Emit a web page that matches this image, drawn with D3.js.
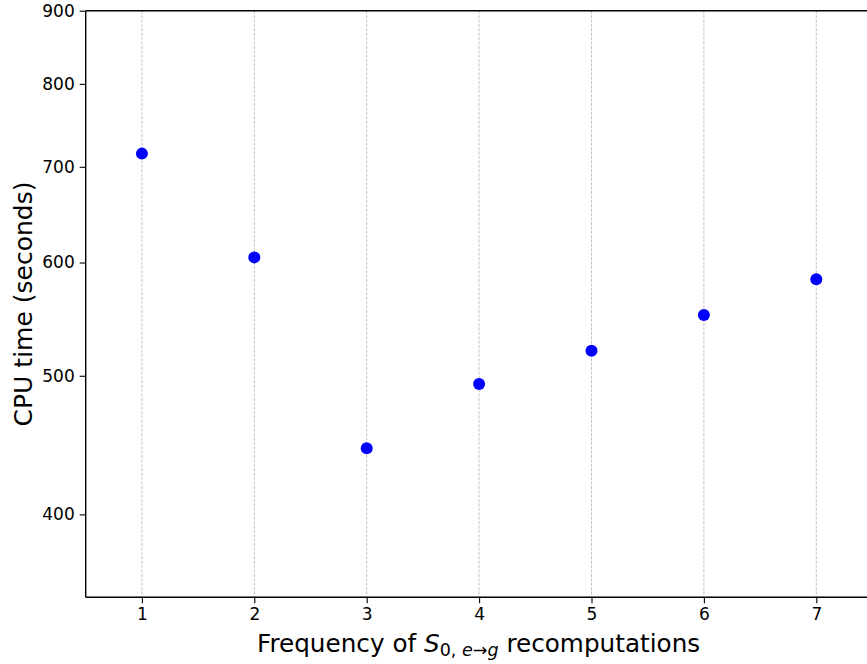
<!DOCTYPE html>
<html>
<head>
<meta charset="utf-8">
<script src="https://cdn.jsdelivr.net/npm/d3@7"></script>
<style>
  html, body { margin: 0; padding: 0; background: #fff; }
  svg { display: block; font-family: "DejaVu Sans", sans-serif; }
</style>
</head>
<body>
<svg id="chart" width="867" height="664"></svg>
<script>
// Data
const frequencies = [1, 2, 3, 4, 5, 6, 7];
const cpuTimes = [715, 605, 445, 493.5, 520.5, 551.5, 584];
const yTickValues = [400, 500, 600, 700, 800, 900];
const xTickValues = [1, 2, 3, 4, 5, 6, 7];

const svg = d3.select("#chart");
const margin = { left: 85.7, top: 10.7, bottom: 597.3 };
const xStep = 112.4;

const x = d3.scaleLinear().domain([0.5, 7.5]).range([margin.left, margin.left + 7 * xStep]);
const y = d3.scaleLog().domain([350, 900]).range([margin.bottom, margin.top]);

// grid lines (vertical, dashed)
svg.append("g").selectAll("line").data(xTickValues).join("line")
  .attr("x1", d => x(d)).attr("x2", d => x(d))
  .attr("y1", margin.top).attr("y2", margin.bottom)
  .attr("stroke", "#c4c4c4").attr("stroke-width", 1)
  .attr("stroke-dasharray", "3,1.4");

// axes
const xAxis = d3.axisBottom(x).tickValues(xTickValues).tickFormat(d3.format("d")).tickSize(6).tickPadding(5);
const yAxis = d3.axisLeft(y).tickValues(yTickValues).tickFormat(d3.format("d")).tickSize(6).tickPadding(5);

const gx = svg.append("g").attr("transform", `translate(0,${margin.bottom})`).call(xAxis);
const gy = svg.append("g").attr("transform", `translate(${margin.left},0)`).call(yAxis);

[gx, gy].forEach(g => {
  g.attr("font-size", null).attr("font-family", null);
  g.select(".domain").remove();
  g.selectAll(".tick line").attr("stroke", "#000").attr("stroke-width", 1.1);
  g.selectAll(".tick text").attr("fill", "#000").style("font-size", "17px")
    .style("font-family", "'DejaVu Sans', sans-serif");
});

// spines
svg.append("line").attr("x1", margin.left).attr("x2", margin.left)
  .attr("y1", margin.top).attr("y2", margin.bottom)
  .attr("stroke", "#000").attr("stroke-width", 1.4);
svg.append("line").attr("x1", margin.left).attr("x2", x(7.5))
  .attr("y1", margin.bottom).attr("y2", margin.bottom)
  .attr("stroke", "#000").attr("stroke-width", 1.4);
svg.append("line").attr("x1", margin.left).attr("x2", x(7.5))
  .attr("y1", margin.top).attr("y2", margin.top)
  .attr("stroke", "#000").attr("stroke-width", 1.4);
svg.append("line").attr("x1", x(7.5)).attr("x2", x(7.5))
  .attr("y1", margin.top).attr("y2", margin.bottom)
  .attr("stroke", "#000").attr("stroke-width", 1.4);

// points
svg.append("g").selectAll("circle").data(frequencies).join("circle")
  .attr("cx", d => x(d))
  .attr("cy", (d, i) => y(cpuTimes[i]))
  .attr("r", 6)
  .attr("fill", "#0000ff");

// x label with math subscript
const xl = svg.append("text")
  .attr("x", (margin.left + x(7.5)) / 2 - 0.5).attr("y", 652)
  .attr("text-anchor", "middle").style("font-size", "24.7px").attr("fill", "#000");
xl.append("tspan").text("Frequency of ");
xl.append("tspan").attr("font-style", "italic").text("S");
const sub = xl.append("tspan").style("font-size", "17.5px").attr("dy", 4);
sub.append("tspan").text("0, ");
sub.append("tspan").attr("font-style", "italic").text("e");
sub.append("tspan").text("→");
sub.append("tspan").attr("font-style", "italic").text("g");
xl.append("tspan").attr("dy", -4).text(" recomputations");

// y label
svg.append("text")
  .attr("transform", `translate(31.5,${(margin.top + margin.bottom) / 2}) rotate(-90)`)
  .attr("text-anchor", "middle").style("font-size", "25px").attr("fill", "#000")
  .text("CPU time (seconds)");
</script>
</body>
</html>
